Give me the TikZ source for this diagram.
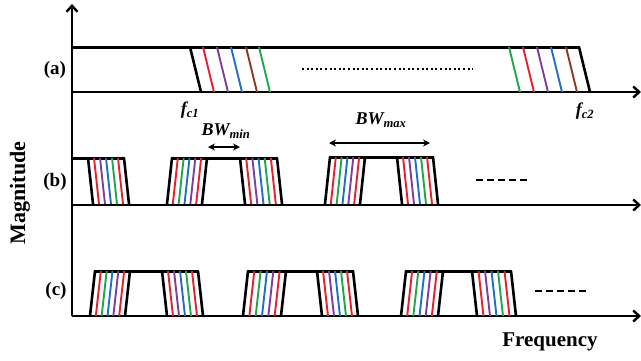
\documentclass[tikz,border=0pt]{standalone}
\usepackage{fontspec}
\setmainfont{Liberation Serif}
\usetikzlibrary{arrows.meta}
\definecolor{cred}{HTML}{E8202A}
\definecolor{cpur}{HTML}{7B3FA0}
\definecolor{cblu}{HTML}{1F6FC5}
\definecolor{cgrn}{HTML}{1FA84A}
\definecolor{cbrn}{HTML}{8B3A1E}
\tikzset{
  axis/.style={line width=2.4pt,-{Straight Barb[length=6pt,width=11pt]}},
  edge/.style={line width=2.6pt,line cap=round},
  topline/.style={line width=3pt},
  cline/.style={line width=1.9pt},
  lbl/.style={font=\fontsize{19}{19}\selectfont\bfseries,inner sep=0pt},
  big/.style={font=\fontsize{21}{21}\selectfont\bfseries,inner sep=0pt},
  fl/.style={font=\fontsize{18}{18}\selectfont\bfseries\itshape,inner sep=0pt},
  dots/.style={line width=2pt,dash pattern=on 2pt off 2.6pt},
  dsh/.style={line width=2.6pt,dash pattern=on 7pt off 4pt},
  bw/.style={line width=1.8pt,{Stealth[length=7pt,width=7pt]}-{Stealth[length=7pt,width=7pt]}}
}
% group: xl, xr (at top), ytop, ybot, dx, colours
\newcommand\fgrp[6]{%
  \foreach \cc [count=\i] in {#6}{\draw[cline,draw=\cc] ({#1+\i*(#2-#1)/6},#3) -- ++(#5,{#4-#3});}
  \draw[edge] (#1,#3) -- ++(#5,{#4-#3});
  \draw[edge] (#2,#3) -- ++(#5,{#4-#3});
}
\begin{document}
\begin{tikzpicture}[x=1pt,y=-1pt]
\useasboundingbox (0,0) rectangle (641,360);
% axes
\coordinate (o) at (72,316);
\coordinate (ytop) at (72,4);
\coordinate (a0) at (72,92);  \coordinate (a1) at (641,92);
\coordinate (b0) at (72,205); \coordinate (b1) at (641,205);
\coordinate (c0) at (72,316); \coordinate (c1) at (641,316);
\draw[axis] (o) -- (ytop);
\draw[axis] (a0) -- (a1);
\draw[axis] (b0) -- (b1);
\draw[axis] (c0) -- (c1);
% ---------- (a)
\draw[topline] (72,47) -- (579,47);
\draw[edge] (190,47) -- (201,92);
\foreach \x/\cc in {203/cred,217/cpur,231/cblu,246/cbrn,259/cgrn}{\draw[cline,draw=\cc] (\x,47) -- ++(11,45);}
\foreach \x/\cc in {509/cgrn,523/cred,537/cpur,551/cblu,566/cbrn}{\draw[cline,draw=\cc] (\x,47) -- ++(11,45);}
\draw[edge] (579,47) -- (590,92);
\draw[dots] (302,69) -- (473,69);
\node[fl] (fc1) at (190,110) {f\textsubscript{c1}};
\node[fl] (fc2) at (585,111) {f\textsubscript{c2}};
% ---------- (b)
\draw[topline] (72,158) -- (124,158);
\fgrp{88}{124}{158}{204}{5}{cred,cpur,cblu,cgrn,cred}
\draw[topline] (172,158) -- (277,158);
\fgrp{172}{207}{158}{204}{-5}{cred,cgrn,cblu,cpur,cred}
\fgrp{240}{277}{158}{204}{5}{cred,cpur,cblu,cgrn,cred}
\draw[topline] (330,157) -- (433,157);
\fgrp{330}{365}{157}{204}{-5}{cred,cgrn,cblu,cpur,cred}
\fgrp{397}{433}{157}{204}{5}{cred,cpur,cblu,cgrn,cred}
\coordinate (bwn0) at (208,147); \coordinate (bwn1) at (240,147);
\draw[bw] (bwn0) -- (bwn1);
\node[fl] (bwmin) at (226,131) {BW\textsubscript{min}};
\coordinate (bwx0) at (329,143); \coordinate (bwx1) at (430,143);
\draw[bw] (bwx0) -- (bwx1);
\node[fl] (bwmax) at (381,120) {BW\textsubscript{max}};
\draw[dsh] (476,180) -- (527,180);
% ---------- (c)
\draw[topline] (95,271) -- (198,271);
\fgrp{95}{130}{271}{316}{-5}{cred,cgrn,cblu,cpur,cred}
\fgrp{162}{198}{271}{316}{5}{cred,cpur,cblu,cgrn,cred}
\draw[topline] (248,271) -- (353,271);
\fgrp{248}{286}{271}{316}{-5}{cred,cgrn,cblu,cpur,cred}
\fgrp{317}{353}{271}{316}{5}{cred,cpur,cblu,cgrn,cred}
\draw[topline] (406,271) -- (511,271);
\fgrp{406}{443}{271}{316}{-5}{cred,cgrn,cblu,cpur,cred}
\fgrp{472}{511}{271}{316}{5}{cred,cpur,cblu,cgrn,cred}
\draw[dsh] (535,291) -- (587,291);
% labels
\node[lbl] (la) at (55,70) {(a)};
\node[lbl] (lb) at (55,182) {(b)};
\node[lbl] (lc) at (56,291) {(c)};
\node[big] (freq) at (550,342) {Frequency};
\node[big,rotate=90,font=\fontsize{22}{22}\selectfont\bfseries] (mag) at (20,193) {Magnitude};
\end{tikzpicture}
\end{document}
